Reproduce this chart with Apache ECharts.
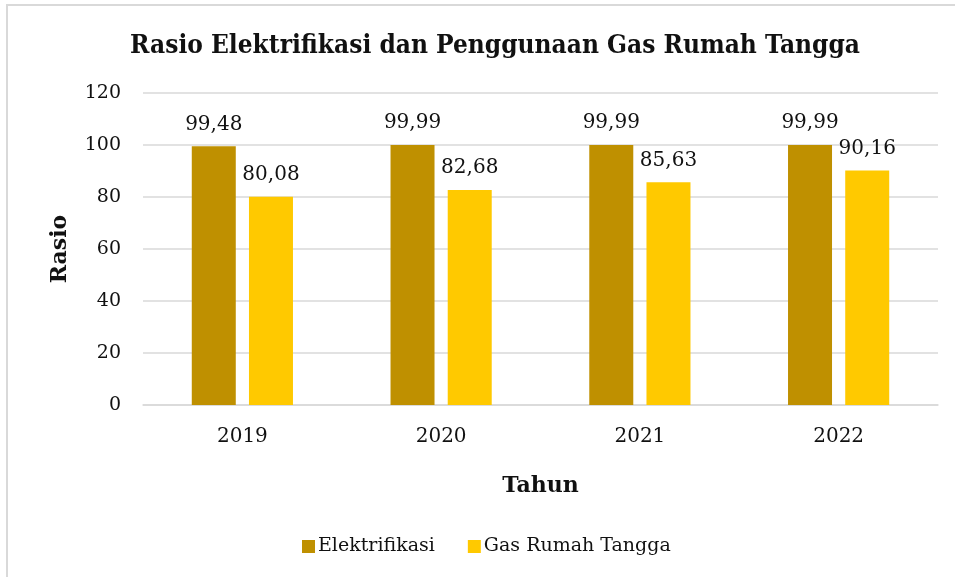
<!DOCTYPE html>
<html>
<head>
<meta charset="utf-8">
<script src="https://cdn.jsdelivr.net/npm/echarts@6/dist/echarts.min.js"></script>
<style>
  html, body { margin: 0; padding: 0; background: #fff; }
  #chart { width: 955px; height: 577px; }
</style>
</head>
<body>
<div id="chart"></div>
<script>
// data
const years = ['2019', '2020', '2021', '2022']
const elektrifikasi = [99.48, 99.99, 99.99, 99.99]
const gasRumahTangga = [80.08, 82.68, 85.63, 90.16]

const FONT = '"DejaVu Serif", "Liberation Serif", serif'
const TEXT = '#111'

const chart = echarts.init(document.getElementById('chart'))

const label = {
  show: true,
  position: 'top',
  distance: 12,
  color: TEXT,
  fontFamily: FONT,
  fontSize: 20,
  formatter: p => p.value.toFixed(2).replace('.', ','),
}

chart.setOption({
  animation: false,
  textStyle: { fontFamily: FONT },
  // frame of the chart area (only top and left edges are inside the picture)
  graphic: [{
    type: 'rect',
    shape: { x: 7, y: 5, width: 960, height: 580 },
    style: { fill: 'none', stroke: '#d9d9d9', lineWidth: 2 },
    silent: true,
  }],
  title: {
    text: 'Rasio Elektrifikasi dan Penggunaan Gas Rumah Tangga',
    left: 490,
    top: 28,
    textAlign: 'center',
    textStyle: {
      fontFamily: '"DejaVu Serif Condensed", "Liberation Serif", serif',
      fontWeight: 'bold',
      fontSize: 26,
      color: TEXT,
    },
  },
  legend: {
    left: 297,
    top: 532,
    itemWidth: 13,
    itemHeight: 13,
    itemGap: 33,
    icon: 'rect',
    textStyle: { fontFamily: FONT, fontSize: 19, color: TEXT, padding: [0, 0, 0, -2] },
    data: ['Elektrifikasi', 'Gas Rumah Tangga'],
  },
  grid: { left: 143, right: 17, top: 93, bottom: 172 },
  xAxis: {
    type: 'category',
    data: years,
    name: 'Tahun',
    nameLocation: 'middle',
    nameGap: 70,
    nameTextStyle: { fontFamily: FONT, fontWeight: 'bold', fontSize: 22, color: TEXT },
    axisLine: { lineStyle: { color: '#d9d9d9', width: 1.5 } },
    axisTick: { show: false },
    axisLabel: { fontFamily: FONT, fontSize: 20, color: TEXT, margin: 22 },
  },
  yAxis: {
    type: 'value',
    min: 0,
    max: 120,
    interval: 20,
    name: 'Rasio',
    nameLocation: 'middle',
    nameRotate: 90,
    nameGap: 72,
    nameTextStyle: { fontFamily: FONT, fontWeight: 'bold', fontSize: 22, color: TEXT },
    axisLine: { show: false },
    axisTick: { show: false },
    axisLabel: { fontFamily: FONT, fontSize: 19, color: TEXT, margin: 22 },
    splitLine: { lineStyle: { color: '#d9d9d9', width: 1.5 } },
  },
  series: [
    {
      name: 'Elektrifikasi',
      type: 'bar',
      data: elektrifikasi,
      barWidth: 44,
      barGap: '30%',
      itemStyle: { color: '#bf9000' },
      label,
    },
    {
      name: 'Gas Rumah Tangga',
      type: 'bar',
      data: gasRumahTangga,
      barWidth: 44,
      itemStyle: { color: '#ffc900' },
      label,
    },
  ],
})
</script>
</body>
</html>
